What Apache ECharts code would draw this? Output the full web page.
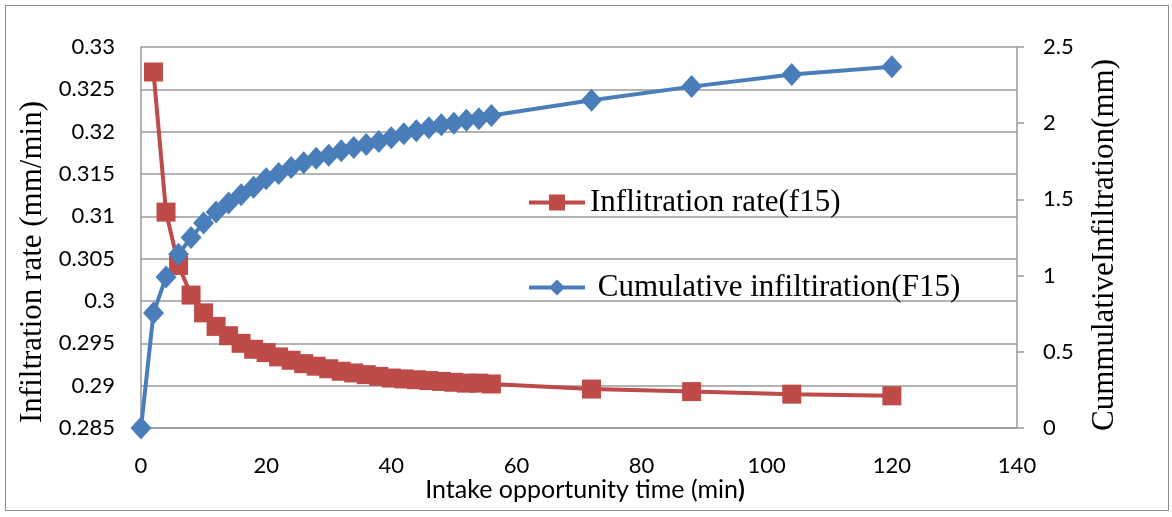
<!DOCTYPE html>
<html>
<head>
<meta charset="utf-8">
<script src="https://cdn.jsdelivr.net/npm/echarts@6/dist/echarts.min.js"></script>
<style>
  html, body { margin: 0; padding: 0; background: #fff; }
  #frame { position: absolute; left: 5px; top: 5px; width: 1164px; height: 506px; border: 1px solid #8c8c8c; box-sizing: border-box; }
  #chart { width: 1172px; height: 517px; }
</style>
</head>
<body>
<div id="frame"></div>
<div id="chart"></div>
<script>
// intake opportunity time (min)
var timeRate = [2,4,6,8,10,12,14,16,18,20,22,24,26,28,30,32,34,36,38,40,42,44,46,48,50,52,54,56,72,88,104,120]
var rateF15 = [0.32705,0.3105,0.3042,0.3007,0.2986,0.2970,0.2959,0.2950,0.2943,0.2939,0.2934,0.2930,0.2926,0.2923,0.2920,0.2917,0.2915,0.2913,0.2911,0.2909,0.2908,0.2907,0.2906,0.2905,0.2904,0.2903,0.2903,0.2902,0.2896,0.2893,0.2890,0.2888]

var timeCum = [0,2,4,6,8,10,12,14,16,18,20,22,24,26,28,30,32,34,36,38,40,42,44,46,48,50,52,54,56,72,88,104,120]
var cumF15 = [0,0.755,0.99,1.14,1.25,1.345,1.417,1.476,1.53,1.58,1.635,1.67,1.71,1.74,1.77,1.79,1.82,1.84,1.86,1.88,1.905,1.93,1.95,1.97,1.99,2.0,2.02,2.03,2.05,2.15,2.24,2.32,2.37]

var xTicks = [0,20,40,60,80,100,120,140]

function pairs(xs, ys) {
    return xs.map(function (x, i) { return [x, ys[i]] })
}

var chart = echarts.init(document.getElementById('chart'))

var sans = 'Lato, Open Sans, sans-serif'
var serif = 'Liberation Serif, Times New Roman, serif'
var gridColor = '#9a9a9a'

var option = {
    animation: false,
    grid: { left: 141, right: 155, top: 47, bottom: 89 },
    legend: {
        orient: 'vertical',
        left: 522,
        top: 182,
        itemWidth: 56,
        itemHeight: 20,
        itemGap: 54,
        lineStyle: { width: 4 },
        textStyle: { fontFamily: serif, fontSize: 31, color: '#000' },
        data: ['Inflitration rate(f15)', ' Cumulative infiltiration(F15)']
    },
    graphic: [
        {
            type: 'text', x: 33, y: 262, rotation: Math.PI / 2,
            style: { text: 'Infiltration rate (mm/min)', font: '31px ' + serif, fill: '#000', align: 'center', verticalAlign: 'middle' }
        },
        {
            type: 'text', x: 1105, y: 245, rotation: Math.PI / 2,
            style: { text: 'CummulativeInfiltration(mm)', font: '31px ' + serif, fill: '#000', align: 'center', verticalAlign: 'middle' }
        },
        {
            type: 'text', x: 585, y: 490,
            style: {
                text: '{a|Intake opportunity time (min}{b|)}',
                align: 'center', verticalAlign: 'middle',
                rich: {
                    a: { fontFamily: sans, fontSize: 25, fill: '#000' },
                    b: { fontFamily: sans, fontSize: 25, fontWeight: 'bold', fill: '#000' }
                }
            }
        }
    ],
    xAxis: {
        type: 'value',
        min: 0, max: 140, interval: 20,
        axisLine: { show: true, lineStyle: { color: gridColor, width: 1.5 } },
        axisTick: { show: false },
        splitLine: { show: false },
        axisLabel: {
            fontFamily: sans, fontSize: 22, color: '#000', margin: 27,
            formatter: function (v) { return xTicks.indexOf(v) >= 0 ? String(v) : '' }
        }
    },
    yAxis: [
        {
            type: 'value',
            min: 0.285, max: 0.33, interval: 0.005,
            axisLine: { show: true, lineStyle: { color: gridColor, width: 1.5 } },
            axisTick: { show: false },
            splitLine: { show: true, lineStyle: { color: gridColor, width: 1.5 } },
            axisLabel: {
                fontFamily: sans, fontSize: 22, color: '#000', margin: 26,
                formatter: function (v) { return String(parseFloat(v.toFixed(3))) }
            }
        },
        {
            type: 'value',
            min: 0, max: 2.5, interval: 0.5,
            axisLine: { show: true, lineStyle: { color: gridColor, width: 1.5 } },
            axisTick: { show: true, length: 7, inside: false, lineStyle: { color: gridColor, width: 1.5 } },
            splitLine: { show: false },
            axisLabel: { fontFamily: sans, fontSize: 22, color: '#000', margin: 26 }
        }
    ],
    series: [
        {
            name: 'Inflitration rate(f15)',
            type: 'line',
            yAxisIndex: 0,
            data: pairs(timeRate, rateF15),
            symbol: 'rect',
            symbolSize: 19,
            itemStyle: { color: '#BE4B48' },
            lineStyle: { color: '#BE4B48', width: 4 }
        },
        {
            name: ' Cumulative infiltiration(F15)',
            type: 'line',
            yAxisIndex: 1,
            data: pairs(timeCum, cumF15),
            symbol: 'diamond',
            symbolSize: [21, 23],
            itemStyle: { color: '#4A7EBB' },
            lineStyle: { color: '#4A7EBB', width: 4 }
        }
    ]
}

chart.setOption(option)
</script>
</body>
</html>
